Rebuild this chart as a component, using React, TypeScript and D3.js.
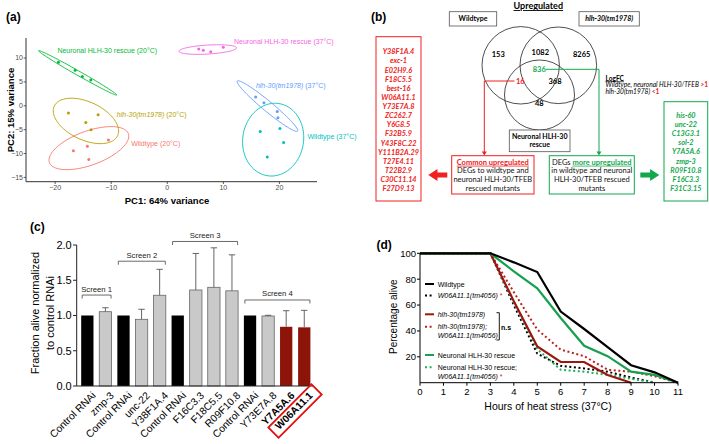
import React from 'react';
import * as d3 from 'd3';

const SANS = 'Liberation Sans, Arial, sans-serif';
const CAL = 'Lato, Carlito, sans-serif';

// ---------------- Panel (a): PCA ----------------
const pcaGroups = ['Wildtype (20°C)', 'hlh-30(tm1978) (20°C)', 'Neuronal HLH-30 rescue (20°C)', 'Wildtype (37°C)', 'hlh-30(tm1978) (37°C)', 'Neuronal HLH-30 rescue (37°C)'];
const pcaItalicPart = ['', 'hlh-30(tm1978)', '', '', 'hlh-30(tm1978)', ''];
const pcaColors = ['#F8766D', '#B79F00', '#00BA38', '#00BFC4', '#619CFF', '#F564E3'];
const pcaPC1 = [
  [-16.74, -14.25, -14.0, -10.5],
  [-17.63, -14.53, -12.34, -13.59],
  [-19.41, -16.44, -15.14, -13.64],
  [16.58, 20.09, 20.75, 17.83],
  [15.76, 17.24, 19.61, 19.73],
  [5.6, 6.42, 7.74, 9.99],
];
const pcaPC2 = [
  [-9.43, -8.45, -11.24, -7.19],
  [-1.53, -3.48, -1.89, -5.03],
  [9.1, 7.42, 6.16, 5.39],
  [-5.37, -4.74, -7.67, -10.75],
  [1.82, 0.63, -1.17, -2.52],
  [11.89, 11.61, 11.32, 12.24],
];
const ellCenter = [[-13.98, -8.87], [-14.51, -3.17], [-15.99, 6.9], [18.88, -7.09], [17.86, -0.06], [7.22, 11.78]];
const ellMajor = [[7.04, 3.02], [5.65, -3.1], [6.98, -4.65], [1.07, 7.55], [5.38, -5.24], [5.13, 0.36]];
const ellMinor = [[1.03, -3.35], [-1.43, -3.61], [-0.2, -0.4], [5.35, -1.05], [-0.57, -0.81], [0.05, -0.94]];
const labelAt = [[-6.45, -8.0], [-9.0, -1.9], [-19.6, 11.5], [25.0, -6.5], [15.8, 4.3], [11.9, 13.5]];
const pcaXTicks = [-20, -10, 0, 10, 20];
const pcaYTicks = [-15, -10, -5, 0, 5, 10];

// ---------------- Panel (b): Venn ----------------
const vennSets = ['Wildtype', 'hlh-30(tm1978)', 'Neuronal HLH-30 rescue'];
const vennCounts = { wt: 153, wtMut: 1082, mut: 8265, all: 836, wtRes: 16, mutRes: 368, res: 48 };
const commonGenes = ['Y38F1A.4', 'exc-1', 'E02H9.6', 'F18C5.5', 'best-16', 'W06A11.1', 'Y73E7A.8', 'ZC262.7', 'Y6G8.5', 'F32B5.9', 'Y43F8C.22', 'Y111B2A.29', 'T27E4.11', 'T22B2.9', 'C30C11.14', 'F27D9.13'];
const moreGenes = ['his-60', 'unc-22', 'C13G3.1', 'sol-2', 'Y7A5A.6', 'zmp-3', 'R09F10.8', 'F16C3.3', 'F31C3.15'];

// ---------------- Panel (c): RNAi screen ----------------
const rnaiLabels = ['Control RNAi', 'zmp-3', 'Control RNAi', 'unc-22', 'Y38F1A.4', 'Control RNAi', 'F16C3.3', 'F18C5.5', 'R09F10.8', 'Control RNAi', 'Y73E7A.8', 'Y7A5A.6', 'W06A11.1'];
const rnaiMean = [1, 1.054, 1, 0.946, 1.287, 1, 1.362, 1.4, 1.35, 1, 0.993, 0.84, 0.832];
const rnaiErr = [0, 0.056, 0, 0.142, 0.368, 0, 0.518, 0.56, 0.51, 0, 0.01, 0.228, 0.241];
const rnaiType = ['control', 'test', 'control', 'test', 'test', 'control', 'test', 'test', 'test', 'control', 'test', 'hit', 'hit'];
const screenNames = ['Screen 1', 'Screen 2', 'Screen 3', 'Screen 4'];
const screenFrom = [0, 2, 5, 9];
const screenTo = [1, 4, 8, 12];
const screenLevel = [1.29, 1.77, 2.05, 1.22];
const rnaiYTicks = [0, 0.5, 1, 1.5, 2];

// ---------------- Panel (d): survival ----------------
const hours = [0, 1, 2, 3, 4, 5, 6, 7, 8, 9, 10, 11];
const survWT = [100, 100, 100, 100, 93, 85.5, 55, 41.5, 27.5, 13.5, 8, 0];
const survWTw06 = [100, 100, 100, 100, 60, 22.5, 13, 11, 8.5, 4, 0, null];
const survHlh = [100, 100, 100, 100, 63, 28, 16, 16, 6, 0, null, null];
const survHlhW06 = [100, 100, 100, 100, 70, 41, 25.5, 20.5, 10, 8.5, 5, 0];
const survRes = [100, 100, 100, 100, 86, 73, 50, 28.5, 20.5, 8.5, 6, 0];
const survResW06 = [100, 100, 100, 100, 62, 26, 10, 8.5, 6, 3, 0, null];
const survXTicks = d3.range(0, 12);
const survYTicks = [20, 40, 60, 80, 100];

function PanelA() {
  const x = d3.scaleLinear().domain([-25.2, 26.7]).range([26, 317]);
  const y = d3.scaleLinear().domain([-15.9, 14.2]).range([181.7, 38]);
  const ellPath = (i: number) => {
    const pts = d3.range(0, 101).map((k) => {
      const t = (k / 100) * Math.PI * 2;
      const px = ellCenter[i][0] + ellMajor[i][0] * Math.cos(t) + ellMinor[i][0] * Math.sin(t);
      const py = ellCenter[i][1] + ellMajor[i][1] * Math.cos(t) + ellMinor[i][1] * Math.sin(t);
      return [x(px), y(py)] as [number, number];
    });
    return d3.line().curve(d3.curveLinearClosed)(pts) || '';
  };
  return (
    <g fontFamily={SANS}>
      <text x={6} y={21} fontSize={12} fontWeight="bold">(a)</text>
      {pcaGroups.map((g, i) => (
        <g key={g}>
          <path d={ellPath(i)} fill="none" stroke={pcaColors[i]} strokeWidth={0.9} />
          {pcaPC1[i].map((v, j) => (
            <circle key={j} cx={x(v)} cy={y(pcaPC2[i][j])} r={1.5} fill={pcaColors[i]} />
          ))}
          <text x={x(labelAt[i][0])} y={y(labelAt[i][1]) + 2.5} fontSize={7} fill={pcaColors[i]}>
            {pcaItalicPart[i] ? (
              <>
                <tspan fontStyle="italic">{pcaItalicPart[i]}</tspan>
                <tspan>{g.slice(pcaItalicPart[i].length)}</tspan>
              </>
            ) : g}
          </text>
        </g>
      ))}
      <line x1={26} x2={26} y1={38} y2={181.7} stroke="#333" strokeWidth={1} />
      <line x1={26} x2={317} y1={181.7} y2={181.7} stroke="#333" strokeWidth={1} />
      {pcaXTicks.map((t) => (
        <g key={t}>
          <line x1={x(t)} x2={x(t)} y1={181.7} y2={184} stroke="#333" strokeWidth={0.8} />
          <text x={x(t)} y={190} fontSize={7} textAnchor="middle" fill="#4d4d4d">{t < 0 ? '\u2212' + Math.abs(t) : t}</text>
        </g>
      ))}
      {pcaYTicks.map((t) => (
        <g key={t}>
          <line x1={23.7} x2={26} y1={y(t)} y2={y(t)} stroke="#333" strokeWidth={0.8} />
          <text x={23} y={y(t) + 2.4} fontSize={7} textAnchor="end" fill="#4d4d4d">{t < 0 ? '\u2212' + Math.abs(t) : t}</text>
        </g>
      ))}
      <text x={167} y={204} fontSize={9.5} fontWeight="bold" textAnchor="middle">PC1: 64% variance</text>
      <text transform="translate(13.5,110) rotate(-90)" fontSize={9.5} fontWeight="bold" textAnchor="middle">PC2: 15% variance</text>
    </g>
  );
}

function PanelB() {
  const red = '#f02020';
  const green = '#12a84e';
  const c1 = { x: 520.7, y: 65.3, r: 38.7 };
  const c2 = { x: 558.3, y: 65.3, r: 38.3 };
  const c3 = { x: 539.5, y: 95, r: 35 };
  const redBox = ['Common upregulated', 'DEGs to wildtype and', 'neuronal HLH-30/TFEB', 'rescued mutants'];
  const greenBox = ['in wildtype and neuronal', 'HLH-30/TFEB rescued', 'mutants'];
  return (
    <g fontFamily={CAL}>
      <text x={371} y={21} fontSize={12} fontWeight="bold" fontFamily={SANS}>(b)</text>
      <text x={538.3} y={9} fontSize={9} fontWeight="bold" textAnchor="middle" textDecoration="underline">Upregulated</text>
      <rect x={449.3} y={11.7} width={47.4} height={14.3} fill="white" stroke="#555" strokeWidth={0.8} />
      <text x={473} y={21.3} fontSize={7} fontWeight="bold" textAnchor="middle">{vennSets[0]}</text>
      <rect x={579} y={11.7} width={60.3} height={14.3} fill="white" stroke="#555" strokeWidth={0.8} />
      <text x={609.2} y={21.3} fontSize={7} fontWeight="bold" fontStyle="italic" textAnchor="middle">{vennSets[1]}</text>
      {[c1, c2, c3].map((c, i) => (
        <circle key={i} cx={c.x} cy={c.y} r={c.r} fill="none" stroke="#222" strokeWidth={0.8} />
      ))}
      <g fontSize={7.5} fontWeight="bold" textAnchor="middle">
        <text x={498.3} y={57}>{vennCounts.wt}</text>
        <text x={540.3} y={54.7}>{vennCounts.wtMut}</text>
        <text x={581.7} y={57}>{vennCounts.mut}</text>
        <text x={539.3} y={72} fill={green}>{vennCounts.all}</text>
        <text x={520.3} y={83.7} fill={red}>{vennCounts.wtRes}</text>
        <text x={555} y={83.7}>{vennCounts.mutRes}</text>
        <text x={539.3} y={106.4}>{vennCounts.res}</text>
      </g>
      <rect x={509.3} y={130} width={60.7} height={21.7} fill="white" stroke="#555" strokeWidth={0.8} />
      <text x={539.7} y={139} fontSize={7} fontWeight="bold" textAnchor="middle">Neuronal HLH-30</text>
      <text x={539.7} y={147.2} fontSize={7} fontWeight="bold" textAnchor="middle">rescue</text>
      {/* connectors */}
      <polyline points="514.5,81 484.3,81 484.3,153" fill="none" stroke={red} strokeWidth={1} />
      <path d="M481.8,151.5 L486.8,151.5 L484.3,155.5 Z" fill={red} />
      <polyline points="546,69.3 599,69.3 599,153" fill="none" stroke={green} strokeWidth={1} />
      <path d="M596.5,151.5 L601.5,151.5 L599,155.5 Z" fill={green} />
      {/* LogFC */}
      <text x={605.5} y={80.5} fontSize={6.6} fontWeight="bold" textDecoration="underline">LogFC</text>
      <text x={605.5} y={87.3} fontSize={6.6} fontStyle="italic">Wildtype, neuronal HLH-30/TFEB <tspan fill={red} fontWeight="bold" fontStyle="normal">&gt;1</tspan></text>
      <text x={605.5} y={94.1} fontSize={6.6} fontStyle="italic">hlh-30(tm1978) <tspan fill={red} fontWeight="bold" fontStyle="normal">&lt;1</tspan></text>
      {/* boxes */}
      <rect x={451.7} y={155.7} width={82.3} height={38.3} fill="white" stroke={red} strokeWidth={1} />
      {redBox.map((t, i) => (
        <text key={i} x={492.8} y={164.7 + i * 8.6} fontSize={7.5} textAnchor="middle"
          fill={i === 0 ? red : '#111'} fontWeight={i === 0 ? 'bold' : 'normal'} textDecoration={i === 0 ? 'underline' : 'none'}>{t}</text>
      ))}
      <rect x={549.3} y={155.7} width={85} height={38.3} fill="white" stroke={green} strokeWidth={1} />
      <text x={591.8} y={164.7} fontSize={7.5} textAnchor="middle" fill="#111">DEGs <tspan fill={green} fontWeight="bold" textDecoration="underline">more upregulated</tspan></text>
      {greenBox.map((t, i) => (
        <text key={i} x={591.8} y={173.3 + i * 8.6} fontSize={7.5} textAnchor="middle" fill="#111">{t}</text>
      ))}
      {/* arrows */}
      <path d="M428.3,175 L437.5,169 L437.5,172.4 L447.3,172.4 L447.3,177.6 L437.5,177.6 L437.5,181 Z" fill={red} />
      <path d="M659.3,175 L650.1,169 L650.1,172.4 L640.3,172.4 L640.3,177.6 L650.1,177.6 L650.1,181 Z" fill={green} />
      {/* gene lists */}
      <rect x={376} y={36.7} width={45} height={164.3} fill="white" stroke={red} strokeWidth={1} />
      {commonGenes.map((g, i) => (
        <text key={g} x={398.5} y={54.3 + i * 9.13} fontSize={7.3} fontStyle="italic" fontWeight="bold" fill={red} textAnchor="middle">{g}</text>
      ))}
      <rect x={664} y={101.7} width={43.7} height={99.3} fill="white" stroke={green} strokeWidth={1} />
      {moreGenes.map((g, i) => (
        <text key={g} x={685.9} y={117.6 + i * 9.2} fontSize={7.3} fontStyle="italic" fontWeight="bold" fill={green} textAnchor="middle">{g}</text>
      ))}
    </g>
  );
}

function PanelC() {
  const x = d3.scaleBand<number>().domain(d3.range(rnaiLabels.length)).range([78.3, 313.3]).paddingInner(0.32).paddingOuter(0.16);
  const y = d3.scaleLinear().domain([0, 2]).range([386, 245]);
  const bw = x.bandwidth();
  const fillOf = (t: string) => (t === 'control' ? '#000' : t === 'hit' ? '#8c1408' : '#c9c9c9');
  const hitIdx = rnaiLabels.length - 1;
  return (
    <g fontFamily={SANS}>
      <text x={30} y={231} fontSize={12} fontWeight="bold">(c)</text>
      {rnaiMean.map((v, i) => (
        <g key={i}>
          <rect x={x(i)} y={y(v)} width={bw} height={y(0) - y(v)} fill={fillOf(rnaiType[i])}
            stroke={rnaiType[i] === 'test' ? '#666' : 'none'} strokeWidth={0.8} />
          {rnaiErr[i] > 0 && (
            <g stroke="#555" strokeWidth={0.9}>
              <line x1={x(i)! + bw / 2} x2={x(i)! + bw / 2} y1={y(v)} y2={y(v + rnaiErr[i])} />
              <line x1={x(i)! + bw / 2 - 3.2} x2={x(i)! + bw / 2 + 3.2} y1={y(v + rnaiErr[i])} y2={y(v + rnaiErr[i])} />
            </g>
          )}
        </g>
      ))}
      {screenNames.map((s, i) => {
        const x1 = x(screenFrom[i])! + 1;
        const x2 = x(screenTo[i])! + bw - 0.5;
        const yy = y(screenLevel[i]);
        return (
          <g key={s}>
            <path d={`M${x1},${yy + 3.5}V${yy}H${x2}V${yy + 3.5}`} fill="none" stroke="#444" strokeWidth={0.8} />
            <text x={(x1 + x2) / 2} y={yy - 3.5} fontSize={7.7} textAnchor="middle" fill="#222">{s}</text>
          </g>
        );
      })}
      <line x1={76.7} x2={76.7} y1={245} y2={386} stroke="#222" strokeWidth={1} />
      <line x1={76.7} x2={313.3} y1={386} y2={386} stroke="#222" strokeWidth={1} />
      {rnaiYTicks.map((t) => (
        <g key={t}>
          <line x1={73} x2={76.7} y1={y(t)} y2={y(t)} stroke="#222" strokeWidth={1} />
          <text x={71.7} y={y(t) + 3.9} fontSize={11} textAnchor="end">{t.toFixed(1)}</text>
        </g>
      ))}
      {rnaiLabels.map((l, i) => (
        <text key={i} transform={`translate(${x(i)! + bw / 2 + 4},${391}) rotate(-45)`} fontSize={10.3}
          textAnchor="end" dy="0.7em" fontWeight={rnaiType[i] === 'hit' ? 'bold' : 'normal'}>{l}</text>
      ))}
      <g transform={`translate(${x(hitIdx)! + bw / 2 + 4},${391}) rotate(-45)`}>
        <rect x={-54} y={-2.5} width={61} height={14.5} fill="none" stroke="#e01010" strokeWidth={1.8} />
      </g>
      <text transform="translate(35,313) rotate(-90)" fontSize={11} textAnchor="middle" dominantBaseline="central">Fraction alive normalized</text>
      <text transform="translate(50,313) rotate(-90)" fontSize={11} textAnchor="middle" dominantBaseline="central">to control RNAi</text>
    </g>
  );
}

function PanelD() {
  const x = d3.scaleLinear().domain([0, 11]).range([420, 678]);
  const y = d3.scaleLinear().domain([0, 100]).range([382.7, 253.3]);
  const line = d3.line<number | null>()
    .defined((d) => d !== null)
    .x((_, i) => x(hours[i]))
    .y((d) => y(d as number));
  const black = '#000';
  const red = '#9c1610';
  const redDot = '#b8241c';
  const green = '#16a050';
  const greenDot = '#1eaf5a';
  const series = [
    { v: survWTw06, c: black, dot: true },
    { v: survResW06, c: greenDot, dot: true },
    { v: survHlhW06, c: redDot, dot: true },
    { v: survHlh, c: red, dot: false },
    { v: survRes, c: green, dot: false },
    { v: survWT, c: black, dot: false },
  ];
  const lx1 = 425, lx2 = 434, tx = 437.7;
  const legend = [
    { y: 284, c: black, dot: false },
    { y: 295.5, c: black, dot: true },
    { y: 314.3, c: red, dot: false },
    { y: 326.7, c: redDot, dot: true },
    { y: 355, c: green, dot: false },
    { y: 367.3, c: greenDot, dot: true },
  ];
  return (
    <g fontFamily={SANS}>
      <text x={376.5} y={249} fontSize={12} fontWeight="bold">(d)</text>
      {series.map((s, i) => (
        <path key={i} d={line(s.v) || ''} fill="none" stroke={s.c} strokeWidth={s.dot ? 2 : 2.2}
          strokeDasharray={s.dot ? '2 2.6' : undefined} />
      ))}
      <line x1={420} x2={420} y1={253.3} y2={382.7} stroke="#000" strokeWidth={1} />
      <line x1={420} x2={678} y1={382.7} y2={382.7} stroke="#000" strokeWidth={1} />
      {survXTicks.map((t) => (
        <g key={t}>
          <line x1={x(t)} x2={x(t)} y1={382.7} y2={385.7} stroke="#000" strokeWidth={1} />
          <text x={x(t)} y={395} fontSize={9.5} textAnchor="middle">{t}</text>
        </g>
      ))}
      {survYTicks.map((t) => (
        <g key={t}>
          <line x1={417} x2={420} y1={y(t)} y2={y(t)} stroke="#000" strokeWidth={1} />
          <text x={416} y={y(t) + 3.4} fontSize={9.5} textAnchor="end">{t}</text>
        </g>
      ))}
      <text x={548} y={409.5} fontSize={10.5} textAnchor="middle">Hours of heat stress (37°C)</text>
      <text transform="translate(393.3,316.7) rotate(-90)" fontSize={10} textAnchor="middle" dominantBaseline="central">Percentage alive</text>
      {legend.map((l, i) => (
        <line key={i} x1={lx1} x2={lx2} y1={l.y} y2={l.y} stroke={l.c} strokeWidth={2}
          strokeDasharray={l.dot ? '2 2.6' : undefined} />
      ))}
      <g fontSize={7}>
        <text x={tx} y={286.5}>Wildtype</text>
        <text x={tx} y={298}><tspan fontStyle="italic">W06A11.1(tm4056)</tspan><tspan fill="#e02020"> *</tspan></text>
        <text x={tx} y={316.8} fontStyle="italic">hlh-30(tm1978)</text>
        <text x={tx} y={329.2} fontStyle="italic">hlh-30(tm1978);</text>
        <text x={tx} y={338.2} fontStyle="italic">W06A11.1(tm4056)</text>
        <text x={tx} y={357.5}>Neuronal HLH-30 rescue</text>
        <text x={tx} y={369.8}>Neuronal HLH-30 rescue;</text>
        <text x={tx} y={378.5}><tspan fontStyle="italic">W06A11.1(tm4056)</tspan><tspan fill="#e02020"> *</tspan></text>
      </g>
      <path d="M496.5,312.7H499.3V340H496.5" fill="none" stroke="#000" strokeWidth={0.9} />
      <text x={501} y={329.8} fontSize={7} fontWeight="bold">n.s</text>
    </g>
  );
}

export default function App() {
  return (
    <svg width={709} height={444} style={{ position: 'absolute', left: 0, top: 0, background: 'white' }}>
      <rect width={709} height={444} fill="white" />
      <PanelA />
      <PanelB />
      <PanelC />
      <PanelD />
    </svg>
  );
}
